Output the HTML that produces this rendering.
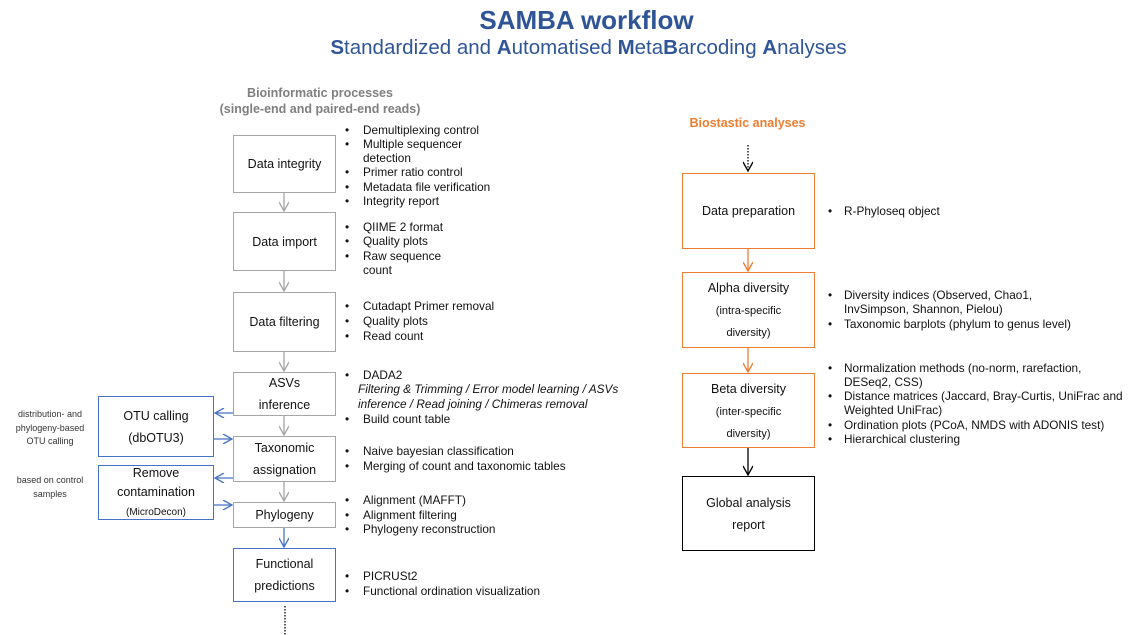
<!DOCTYPE html>
<html><head><meta charset="utf-8"><style>
body{margin:0;width:1141px;height:635px;background:#fff;position:relative;overflow:hidden;font-family:"Liberation Sans","DejaVu Sans",sans-serif;color:#111}
div{position:absolute;white-space:nowrap}
.t{font-size:11.8px;line-height:14px}
.box{box-sizing:border-box;background:#fff;display:flex;align-items:center;justify-content:center;text-align:center;font-size:12.5px;line-height:22px;white-space:normal}
.g{border:1.5px solid #a6a6a6}
.bl{border:1.5px solid #4472c4}
.o{border:1.5px solid #ed7d31}
.k{border:1.5px solid #000}
.s{font-size:11px;line-height:17px}
</style></head><body>
<svg width="1141" height="635" style="position:absolute;left:0;top:0">
<defs>
<marker id="ag" markerWidth="12" markerHeight="10" refX="10" refY="5" orient="auto" markerUnits="userSpaceOnUse"><path d="M1,0 L10,5 L1,10" fill="none" stroke="#a6a6a6" stroke-width="1.3"/></marker>
<marker id="ab" markerWidth="12" markerHeight="10" refX="10" refY="5" orient="auto" markerUnits="userSpaceOnUse"><path d="M1,0 L10,5 L1,10" fill="none" stroke="#4472c4" stroke-width="1.3"/></marker>
<marker id="ao" markerWidth="12" markerHeight="10" refX="10" refY="5" orient="auto" markerUnits="userSpaceOnUse"><path d="M1,0 L10,5 L1,10" fill="none" stroke="#ed7d31" stroke-width="1.3"/></marker>
<marker id="ak" markerWidth="12" markerHeight="10" refX="10" refY="5" orient="auto" markerUnits="userSpaceOnUse"><path d="M1,0 L10,5 L1,10" fill="none" stroke="#000" stroke-width="1.3"/></marker>
</defs>
<g stroke-width="1.3" fill="none">
<line x1="284" y1="193" x2="284" y2="211" stroke="#a6a6a6" marker-end="url(#ag)"/>
<line x1="284" y1="271" x2="284" y2="291" stroke="#a6a6a6" marker-end="url(#ag)"/>
<line x1="284" y1="352" x2="284" y2="371" stroke="#a6a6a6" marker-end="url(#ag)"/>
<line x1="284" y1="416" x2="284" y2="435" stroke="#a6a6a6" marker-end="url(#ag)"/>
<line x1="284" y1="482" x2="284" y2="501" stroke="#a6a6a6" marker-end="url(#ag)"/>
<line x1="284" y1="528" x2="284" y2="547" stroke="#4472c4" marker-end="url(#ab)"/>
<line x1="233" y1="413" x2="215" y2="413" stroke="#4472c4" marker-end="url(#ab)"/>
<line x1="214" y1="439" x2="232" y2="439" stroke="#4472c4" marker-end="url(#ab)"/>
<line x1="233" y1="478" x2="215" y2="478" stroke="#4472c4" marker-end="url(#ab)"/>
<line x1="214" y1="505" x2="232" y2="505" stroke="#4472c4" marker-end="url(#ab)"/>
<line x1="285" y1="606" x2="285" y2="635" stroke="#000" stroke-dasharray="1.5,1.5"/>
<line x1="748" y1="145" x2="748" y2="171" stroke="#000" stroke-dasharray="1.5,1.5" marker-end="url(#ak)"/>
<line x1="748" y1="249" x2="748" y2="271" stroke="#ed7d31" marker-end="url(#ao)"/>
<line x1="748" y1="348" x2="748" y2="372" stroke="#ed7d31" marker-end="url(#ao)"/>
<line x1="748" y1="448" x2="748" y2="475" stroke="#000" marker-end="url(#ak)"/>
</g></svg>

<div style="left:0;width:1141px;top:5px;text-align:center;"><span style="position:relative;left:16px;font-size:26px;font-weight:bold;color:#2f5597">SAMBA workflow</span></div>
<div style="left:0;width:1141px;top:36px;text-align:center;font-size:20.5px;color:#2f5597"><span style="position:relative;left:18px"><b>S</b>tandardized and <b>A</b>utomatised <b>M</b>eta<b>B</b>arcoding <b>A</b>nalyses</span></div>
<div style="left:170px;width:300px;top:85px;text-align:center;font-size:12.5px;line-height:16px;color:#7f7f7f;font-weight:bold">Bioinformatic processes<br>(single-end and paired-end reads)</div>
<div style="left:670px;width:155px;top:116px;text-align:center;font-size:12.5px;color:#ed7d31;font-weight:bold">Biostastic analyses</div>

<div class="box g" style="left:233px;top:135px;width:103px;height:58px">Data integrity</div>
<div class="box g" style="left:233px;top:212px;width:103px;height:59px">Data import</div>
<div class="box g" style="left:233px;top:292px;width:103px;height:60px">Data filtering</div>
<div class="box g" style="left:233px;top:372px;width:103px;height:44px">ASVs<br>inference</div>
<div class="box g" style="left:233px;top:436px;width:103px;height:46px">Taxonomic<br>assignation</div>
<div class="box g" style="left:233px;top:502px;width:103px;height:26px">Phylogeny</div>
<div class="box bl" style="left:233px;top:548px;width:103px;height:54px">Functional<br>predictions</div>
<div class="box bl" style="left:98px;top:396px;width:116px;height:61px"><span>OTU calling<br>(dbOTU3)</span></div>
<div class="box bl" style="left:98px;top:465px;width:116px;height:55px;line-height:19px"><span>Remove<br>contamination<br><span style="font-size:10px;line-height:12px">(MicroDecon)</span></span></div>
<div style="left:5px;width:90px;top:408px;text-align:center;font-size:9px;line-height:13.5px;color:#333">distribution- and<br>phylogeny-based<br>OTU calling</div>
<div style="left:5px;width:90px;top:474px;text-align:center;font-size:9px;line-height:13.5px;color:#333">based on control<br>samples</div>

<div class="box o" style="left:682px;top:173px;width:133px;height:76px">Data preparation</div>
<div class="box o" style="left:682px;top:272px;width:133px;height:76px"><span>Alpha diversity<br><span class="s">(intra-specific<br>diversity)</span></span></div>
<div class="box o" style="left:682px;top:373px;width:133px;height:75px"><span>Beta diversity<br><span class="s">(inter-specific<br>diversity)</span></span></div>
<div class="box k" style="left:682px;top:476px;width:133px;height:75px">Global analysis<br>report</div>

<div class="t" style="left:345px;top:123px">•</div><div class="t" style="left:363px;top:123px">Demultiplexing control</div>
<div class="t" style="left:345px;top:137px">•</div><div class="t" style="left:363px;top:137px">Multiple sequencer</div>
<div class="t" style="left:363px;top:151px">detection</div>
<div class="t" style="left:345px;top:165px">•</div><div class="t" style="left:363px;top:165px">Primer ratio control</div>
<div class="t" style="left:345px;top:180px">•</div><div class="t" style="left:363px;top:180px">Metadata file verification</div>
<div class="t" style="left:345px;top:194px">•</div><div class="t" style="left:363px;top:194px">Integrity report</div>
<div class="t" style="left:345px;top:220px">•</div><div class="t" style="left:363px;top:220px">QIIME 2 format</div>
<div class="t" style="left:345px;top:234px">•</div><div class="t" style="left:363px;top:234px">Quality plots</div>
<div class="t" style="left:345px;top:249px">•</div><div class="t" style="left:363px;top:249px">Raw sequence</div>
<div class="t" style="left:363px;top:263px">count</div>
<div class="t" style="left:345px;top:299px">•</div><div class="t" style="left:363px;top:299px">Cutadapt Primer removal</div>
<div class="t" style="left:345px;top:314px">•</div><div class="t" style="left:363px;top:314px">Quality plots</div>
<div class="t" style="left:345px;top:329px">•</div><div class="t" style="left:363px;top:329px">Read count</div>
<div class="t" style="left:345px;top:368px">•</div><div class="t" style="left:363px;top:368px">DADA2</div>
<div class="t" style="left:358px;top:382px;font-style:italic">Filtering &amp; Trimming / Error model learning / ASVs</div>
<div class="t" style="left:358px;top:397px;font-style:italic">inference / Read joining / Chimeras removal</div>
<div class="t" style="left:345px;top:412px">•</div><div class="t" style="left:363px;top:412px">Build count table</div>
<div class="t" style="left:345px;top:444px">•</div><div class="t" style="left:363px;top:444px">Naive bayesian classification</div>
<div class="t" style="left:345px;top:459px">•</div><div class="t" style="left:363px;top:459px">Merging of count and taxonomic tables</div>
<div class="t" style="left:345px;top:493px">•</div><div class="t" style="left:363px;top:493px">Alignment (MAFFT)</div>
<div class="t" style="left:345px;top:508px">•</div><div class="t" style="left:363px;top:508px">Alignment filtering</div>
<div class="t" style="left:345px;top:522px">•</div><div class="t" style="left:363px;top:522px">Phylogeny reconstruction</div>
<div class="t" style="left:345px;top:569px">•</div><div class="t" style="left:363px;top:569px">PICRUSt2</div>
<div class="t" style="left:345px;top:584px">•</div><div class="t" style="left:363px;top:584px">Functional ordination visualization</div>

<div class="t" style="left:828px;top:204px">•</div><div class="t" style="left:844px;top:204px">R-Phyloseq object</div>
<div class="t" style="left:828px;top:288px">•</div><div class="t" style="left:844px;top:288px">Diversity indices (Observed, Chao1,</div>
<div class="t" style="left:844px;top:302px">InvSimpson, Shannon, Pielou)</div>
<div class="t" style="left:828px;top:317px">•</div><div class="t" style="left:844px;top:317px">Taxonomic barplots (phylum to genus level)</div>
<div class="t" style="left:828px;top:361px">•</div><div class="t" style="left:844px;top:361px">Normalization methods (no-norm, rarefaction,</div>
<div class="t" style="left:844px;top:375px">DESeq2, CSS)</div>
<div class="t" style="left:828px;top:389px">•</div><div class="t" style="left:844px;top:389px">Distance matrices (Jaccard, Bray-Curtis, UniFrac and</div>
<div class="t" style="left:844px;top:403px">Weighted UniFrac)</div>
<div class="t" style="left:828px;top:418px">•</div><div class="t" style="left:844px;top:418px">Ordination plots (PCoA, NMDS with ADONIS test)</div>
<div class="t" style="left:828px;top:432px">•</div><div class="t" style="left:844px;top:432px">Hierarchical clustering</div>
</body></html>
